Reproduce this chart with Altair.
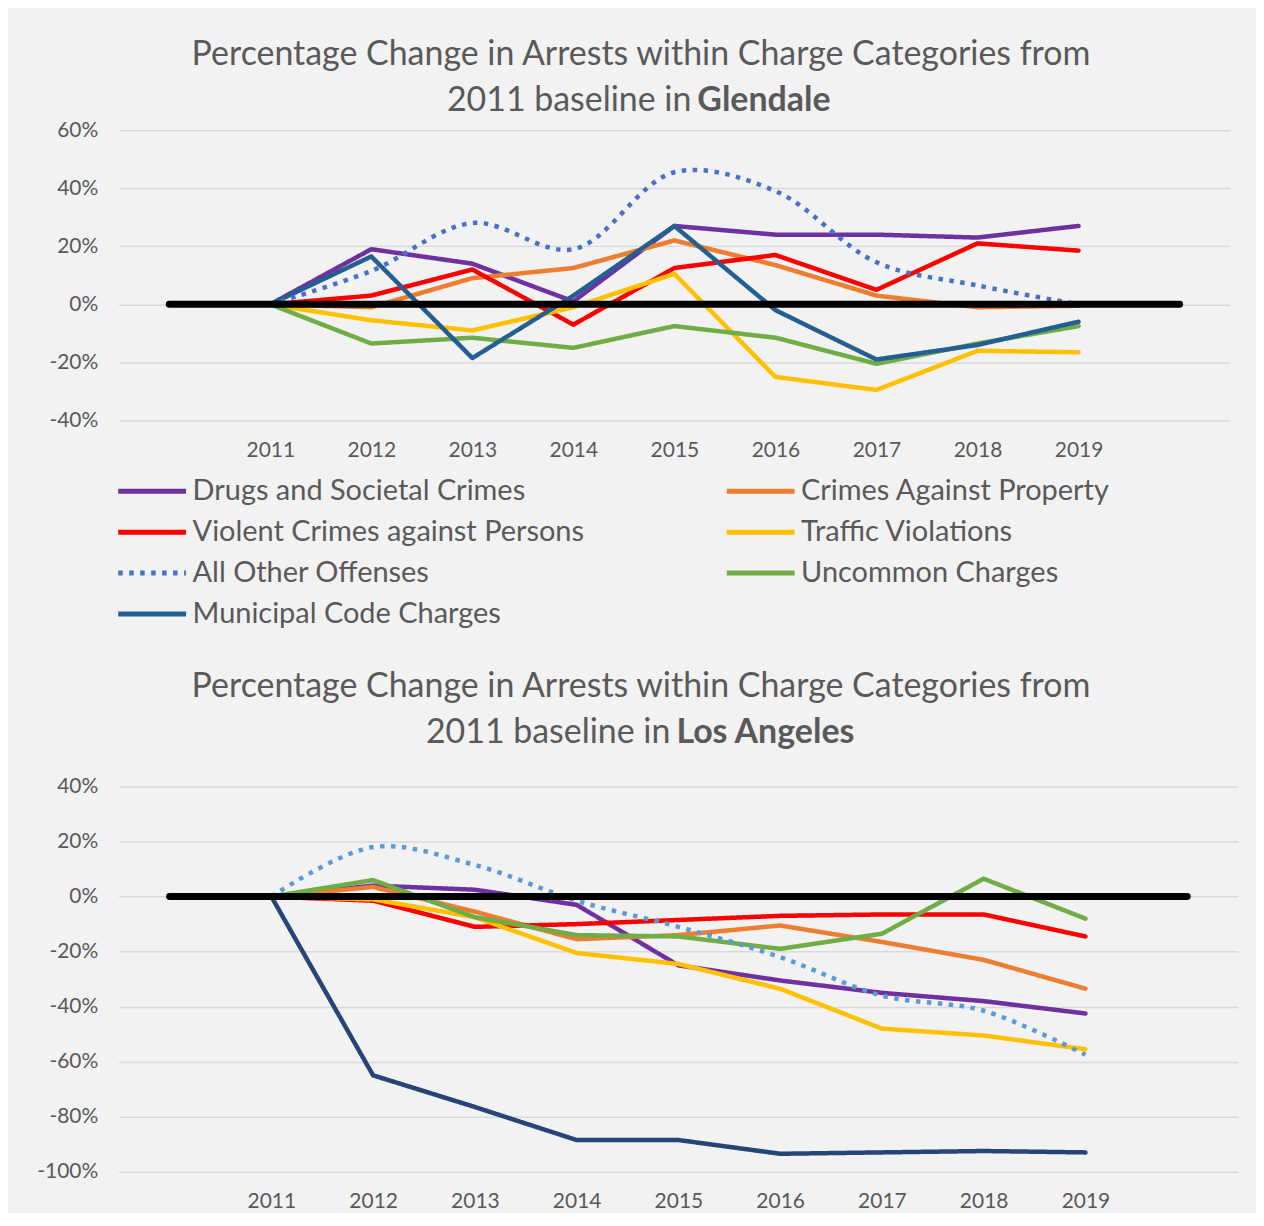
import altair as alt
import pandas as pd

# ---------------- data ----------------
years = [2011, 2012, 2013, 2014, 2015, 2016, 2017, 2018, 2019]
categories = [
    "Drugs and Societal Crimes",
    "Crimes Against Property",
    "Violent Crimes against Persons",
    "Traffic Violations",
    "All Other Offenses",
    "Uncommon Charges",
    "Municipal Code Charges",
]
# legend fills column by column: this order gives the reference's row-by-row reading
legend_order = [
    "Drugs and Societal Crimes",
    "Violent Crimes against Persons",
    "All Other Offenses",
    "Municipal Code Charges",
    "Crimes Against Property",
    "Traffic Violations",
    "Uncommon Charges",
]

glendale_drugs = [0, 19, 14, 1, 27, 24, 24, 23, 27]
glendale_property = [0, -1, 9, 12.5, 22, 13.5, 3, -1, -0.5]
glendale_violent = [0, 3, 12, -7, 12.5, 17, 5, 21, 18.5]
glendale_traffic = [0, -5.5, -9, -1, 10.5, -25, -29.5, -16, -16.5]
glendale_other = [0, 11.5, 28, 19, 45.5, 39, 14.5, 6.5, 0]
glendale_uncommon = [0, -13.5, -11.5, -15, -7.5, -11.5, -20.5, -13.5, -7.5]
glendale_municipal = [0, 16.5, -18.5, 3, 27, -2, -19, -14, -6]

la_drugs = [0, 4, 2.5, -3, -25, -30.5, -35, -38, -42.5]
la_property = [0, 3.5, -5.5, -15.5, -14, -10.5, -16.5, -23, -33.5]
la_violent = [0, -1.5, -11, -10, -8.5, -7, -6.5, -6.5, -14.5]
la_traffic = [0, -1, -7.5, -20.5, -24.5, -33.5, -48, -50.5, -55.5]
la_other = [0, 18, 11.5, -1.5, -11, -22, -36, -41.5, -57.5]
la_uncommon = [0, 6, -7.5, -14, -14.5, -19, -13.5, 6.5, -8]
la_municipal = [0, -65, -76.5, -88.5, -88.5, -93.5, -93, -92.5, -93]

baseline_years = [2010, 2020]
baseline_values = [0, 0]

glendale_ticks = [-40, -20, 0, 20, 40, 60]
la_ticks = [-100, -80, -60, -40, -20, 0, 20, 40]

title_line1 = "Percentage Change in Arrests within Charge Categories from"
title_line2 = "2011 baseline in "
glendale_city = "Glendale"
la_city = "Los Angeles"

color_map_glendale = {
    "Drugs and Societal Crimes": "#7030A0",
    "Crimes Against Property": "#ED7D31",
    "Violent Crimes against Persons": "#FF0000",
    "Traffic Violations": "#FFC000",
    "All Other Offenses": "#4472C4",
    "Uncommon Charges": "#70AD47",
    "Municipal Code Charges": "#255E91",
}
color_map_la = dict(color_map_glendale)
color_map_la["All Other Offenses"] = "#5B9BD5"
color_map_la["Municipal Code Charges"] = "#264478"

FONT = "Lato"
GREY = "#595959"


def make_frame(series_lists):
    rows = []
    for name, vals in zip(categories, series_lists):
        for yr, v in zip(years, vals):
            rows.append({"year": yr, "value": v, "series": name})
    return pd.DataFrame(rows)


def panel(df, cmap, domain, ticks, w, h, city, t1_y, t2_y, split_x, show_legend):
    xenc = alt.X(
        "year:Q",
        scale=alt.Scale(domain=[2009.5, 2020.5], nice=False, zero=False),
        axis=alt.Axis(values=years, format="d", title=None, grid=False, domain=False,
                      ticks=False, labelFontSize=21, labelFont=FONT, labelColor=GREY,
                      labelPadding=19, labelFlush=False),
    )
    yenc = alt.Y(
        "value:Q",
        scale=alt.Scale(domain=domain, nice=False, zero=False),
        axis=alt.Axis(values=ticks, labelExpr="datum.value + '%'", title=None,
                      grid=True, gridColor="#D9D9D9", gridWidth=1.5, domain=False,
                      ticks=False, labelFontSize=21, labelFont=FONT, labelColor=GREY,
                      labelPadding=21),
    )
    if show_legend:
        legend = alt.Legend(
            title=None, orient="none", legendX=-3, legendY=348, columns=2,
            symbolType="stroke", symbolSize=4624, symbolStrokeWidth=5,
            labelFontSize=29, labelFont=FONT, labelColor=GREY, labelOffset=4,
            columnPadding=140, rowPadding=12, clipHeight=28, padding=0, labelLimit=0,
        )
    else:
        legend = None
    dash_range = [[4.5, 6.5] if s == "All Other Offenses" else [1, 0] for s in legend_order]
    color = alt.Color("series:N",
                      scale=alt.Scale(domain=legend_order, range=[cmap[s] for s in legend_order]),
                      sort=legend_order, legend=legend)
    dash = alt.StrokeDash("series:N", scale=alt.Scale(domain=legend_order, range=dash_range),
                          sort=legend_order, legend=legend)

    base = alt.Chart(df).encode(x=xenc, y=yenc, color=color, strokeDash=dash)
    solid = base.transform_filter(alt.datum.series != "All Other Offenses").mark_line(
        strokeWidth=4.5, strokeCap="round", strokeJoin="round")
    dotted = base.transform_filter(alt.datum.series == "All Other Offenses").mark_line(
        strokeWidth=4.5, strokeCap="butt", interpolate="catmull-rom")

    bl = pd.DataFrame({"year": baseline_years, "value": baseline_values})
    baseline = alt.Chart(bl).mark_line(color="black", strokeWidth=7, strokeCap="round").encode(
        x="year:Q", y="value:Q")

    t1 = alt.Chart(pd.DataFrame({"t": [title_line1]})).mark_text(
        font=FONT, fontSize=34, color=GREY, align="center", baseline="middle").encode(
        text="t:N", x=alt.value(523.5), y=alt.value(t1_y))
    t2a = alt.Chart(pd.DataFrame({"t": [title_line2]})).mark_text(
        font=FONT, fontSize=34, color=GREY, align="right", baseline="middle").encode(
        text="t:N", x=alt.value(split_x), y=alt.value(t2_y))
    t2b = alt.Chart(pd.DataFrame({"t": [city]})).mark_text(
        font=FONT, fontSize=34, fontWeight="bold", color=GREY, align="left",
        baseline="middle").encode(
        text="t:N", x=alt.value(split_x + 6), y=alt.value(t2_y))

    return alt.layer(solid, dotted, baseline, t1, t2a, t2b).properties(width=w, height=h)


glendale_df = make_frame([glendale_drugs, glendale_property, glendale_violent, glendale_traffic,
                          glendale_other, glendale_uncommon, glendale_municipal])
la_df = make_frame([la_drugs, la_property, la_violent, la_traffic,
                    la_other, la_uncommon, la_municipal])

top = panel(glendale_df, color_map_glendale, [-40, 60], glendale_ticks, 1114, 291,
            glendale_city, -75, -29, 574, True)
bottom = panel(la_df, color_map_la, [-100, 40], la_ticks, 1122, 386,
               la_city, -100, -54, 553, False)

chart = alt.vconcat(top, bottom, spacing=41).resolve_scale(
    color="independent", strokeDash="independent", x="independent", y="independent"
).properties(
    background="#F2F2F2",
    padding={"left": 28, "top": 29, "right": 18, "bottom": 0},
).configure_view(stroke=None)

chart.save("out.html", embed_options={"renderer": "svg", "actions": False})
